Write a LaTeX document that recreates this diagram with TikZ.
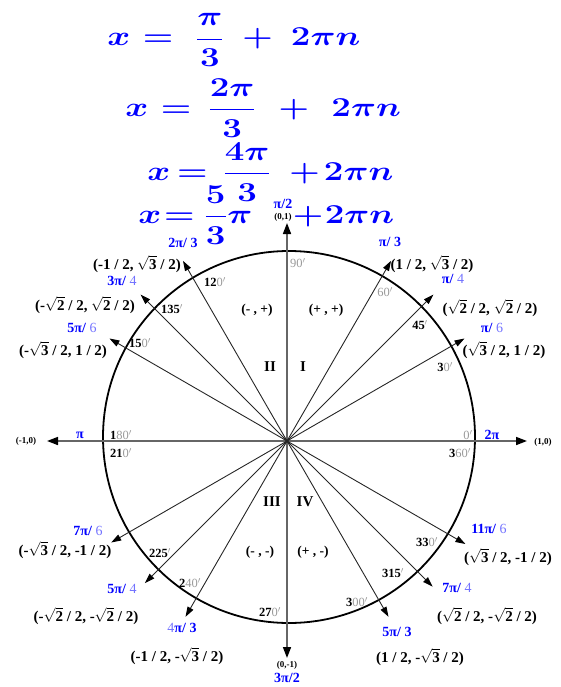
\documentclass[tikz,border=0pt]{standalone}
\usepackage{amsmath,amssymb}
\usepackage{fontspec}
\setmainfont{Liberation Serif}
\usepackage{tikz}
\usetikzlibrary{arrows.meta, calc}

% radical, degree mark and two-tone angle label
\newcommand\sq[1]{$\sqrt{\mathbf{#1}}$}
\newcommand\dlab[2]{\textbf{#1}{\color{black!40}\mdseries #2$'$}}
\newcommand\blab[2]{\textbf{#1}{\color{blue!55}\mdseries #2}}

\begin{document}
\begin{tikzpicture}[
    x=1pt, y=-1pt,
    axis/.style={draw=black!60, line width=1.6pt, -{Triangle[length=11pt, width=8pt, color=black]}},
    ray/.style={draw=black!85, line width=0.9pt, -{Triangle[length=10pt, width=6.5pt, color=black]}},
    unit/.style={draw, line width=1.8pt},
    coord/.style={font=\fontsize{15}{16}\selectfont\bfseries, inner sep=1pt},
    frac/.style={font=\fontsize{14}{15}\selectfont, text=blue, inner sep=0.5pt},
    deg/.style={font=\fontsize{12.5}{13}\selectfont, inner sep=1pt},
    quad/.style={font=\fontsize{15}{16}\selectfont\bfseries},
    sgn/.style={font=\fontsize{13.5}{14}\selectfont\bfseries},
    small/.style={font=\fontsize{9}{9}\selectfont\bfseries, inner sep=0.5pt},
    hand/.style={text=blue, font=\Huge\boldmath, inner sep=0pt, anchor=west,
        xscale=1.4, yscale=1.1, transform shape},
]
\useasboundingbox (0,0) rectangle (560,687);

% handwritten solutions
\node[hand] (eq1) at (107,40) {$x\hspace{9pt}{=}\hspace{16pt}\dfrac{\pi}{3}\hspace{13pt}{+}\hspace{13pt}2\pi n$};
\node[hand] (eq2) at (125,108) {$x\hspace{9pt}{=}\hspace{12pt}\dfrac{2\pi}{3}\hspace{16pt}{+}\hspace{16pt}2\pi n$};
\node[hand] (eq3) at (147,172) {$x\hspace{5pt}{=}\hspace{11pt}\dfrac{4\pi}{3}\hspace{13pt}{+}\hspace{3pt}2\pi n$};
\node[hand] (eq4) at (138,215) {$x\hspace{2pt}{=}\hspace{7pt}\dfrac{5}{3}\pi\hspace{29pt}{+}\hspace{1pt}2\pi n$};

% axes and unit circle
\coordinate (O) at (287,441);
\coordinate (C) at (289,437);
\coordinate (xl) at (47,441);
\coordinate (xr) at (527,441);
\coordinate (yt) at (287,223);
\coordinate (yb) at (287,658);
\draw[unit] (C) circle[radius=186pt];
\draw[axis] (O) -- (xr);
\draw[axis] (O) -- (xl);
\draw[axis] (O) -- (yt);
\draw[axis] (O) -- (yb);

% rays
\coordinate (r30) at ($(O)+(30:205pt)$);
\coordinate (r45) at ($(O)+(45:207pt)$);
\coordinate (r60) at ($(O)+(60:208pt)$);
\coordinate (r120) at ($(O)+(120:208pt)$);
\coordinate (r135) at ($(O)+(135:207pt)$);
\coordinate (r150) at ($(O)+(150:205pt)$);
\coordinate (r210) at ($(O)+(210:203pt)$);
\coordinate (r225) at ($(O)+(225:201pt)$);
\coordinate (r240) at ($(O)+(240:203pt)$);
\coordinate (r300) at ($(O)+(300:203pt)$);
\coordinate (r315) at ($(O)+(315:206pt)$);
\coordinate (r330) at ($(O)+(330:206pt)$);
\draw[ray] (O) -- (r30);
\draw[ray] (O) -- (r45);
\draw[ray] (O) -- (r60);
\draw[ray] (O) -- (r120);
\draw[ray] (O) -- (r135);
\draw[ray] (O) -- (r150);
\draw[ray] (O) -- (r210);
\draw[ray] (O) -- (r225);
\draw[ray] (O) -- (r240);
\draw[ray] (O) -- (r300);
\draw[ray] (O) -- (r315);
\draw[ray] (O) -- (r330);

% quadrants
\node[quad] (q1) at (303,367) {I};
\node[quad] (q2) at (270,367) {II};
\node[quad] (q3) at (272,502) {III};
\node[quad] (q4) at (305,502) {IV};
\node[sgn] (s1) at (326,310) {(+ , +)};
\node[sgn] (s2) at (257,310) {(- , +)};
\node[sgn] (s3) at (260,552) {(- , -)};
\node[sgn] (s4) at (313,552) {(+ , -)};

% degrees
\node[deg] (d0) at (468,435) {\dlab{}{0}};
\node[deg] (d30) at (445,367) {\dlab{3}{0}};
\node[deg] (d45) at (420,325) {\dlab{45}{}};
\node[deg] (d60) at (385,292) {\dlab{}{60}};
\node[deg] (d90) at (298,263) {\dlab{}{90}};
\node[deg] (d120) at (215,282) {\dlab{12}{0}};
\node[deg] (d135) at (172,309) {\dlab{135}{}};
\node[deg] (d150) at (140,343) {\dlab{15}{0}};
\node[deg] (d180) at (121,435) {\dlab{1}{80}};
\node[deg] (d210) at (121,453) {\dlab{21}{0}};
\node[deg] (d225) at (160,553) {\dlab{225}{}};
\node[deg] (d240) at (190,583) {\dlab{2}{40}};
\node[deg] (d270) at (270,612) {\dlab{27}{0}};
\node[deg] (d300) at (357,602) {\dlab{3}{00}};
\node[deg] (d315) at (393,573) {\dlab{315}{}};
\node[deg] (d330) at (427,542) {\dlab{33}{0}};
\node[deg] (d360) at (460,453) {\dlab{3}{60}};

% radians
\node[frac] (a90) at (283,204) {\textbf{π/2}};
\node[frac] (a60) at (390,242) {\textbf{π/ 3}};
\node[frac] (a45) at (453,279) {\blab{π/ }{4}};
\node[frac] (a30) at (492,328) {\blab{π/ }{6}};
\node[frac] (a0) at (492,435) {\textbf{2π}};
\node[frac] (a120) at (183,243) {\textbf{2π/ 3}};
\node[frac] (a135) at (122,281) {\blab{3π/ }{4}};
\node[frac] (a150) at (82,328) {\blab{5π/ }{6}};
\node[frac] (a180) at (80,435) {\textbf{π}};
\node[frac] (a210) at (88,531) {\blab{7π/ }{6}};
\node[frac] (a225) at (122,589) {\blab{5π/ }{4}};
\node[frac] (a240) at (182,628) {{\color{blue!55}4}\textbf{π/ 3}};
\node[frac] (a270) at (287,678) {\textbf{3π/2}};
\node[frac] (a300) at (397,632) {\textbf{5π/ 3}};
\node[frac] (a315) at (457,588) {\blab{7π/ }{4}};
\node[frac] (a330) at (489,529) {\blab{11π/ }{6}};

% coordinates
\node[small] (p90) at (283,217) {(0,1)};
\node[small] (p180) at (26,441) {(-1,0)};
\node[small] (p0) at (543,442) {(1,0)};
\node[small] (p270) at (287,665) {(0,-1)};
\node[coord] (p60) at (432,264) {(1 / 2, \sq{3} / 2)};
\node[coord] (p45) at (490,308) {(\sq{2} / 2, \sq{2} / 2)};
\node[coord] (p30) at (504,350) {(\sq{3} / 2, 1 / 2)};
\node[coord] (p120) at (137,264) {(-1 / 2, \sq{3} / 2)};
\node[coord] (p135) at (85,305) {(-\sq{2} / 2, \sq{2} / 2)};
\node[coord] (p150) at (63,350) {(-\sq{3} / 2, 1 / 2)};
\node[coord] (p210) at (65,550) {(-\sq{3} / 2, -1 / 2)};
\node[coord] (p225) at (86,616) {(-\sq{2} / 2, -\sq{2} / 2)};
\node[coord] (p240) at (177,656) {(-1 / 2, -\sq{3} / 2)};
\node[coord] (p300) at (420,657) {(1 / 2, -\sq{3} / 2)};
\node[coord] (p315) at (487,616) {(\sq{2} / 2, -\sq{2} / 2)};
\node[coord] (p330) at (508,557) {(\sq{3} / 2, -1 / 2)};
\end{tikzpicture}
\end{document}
